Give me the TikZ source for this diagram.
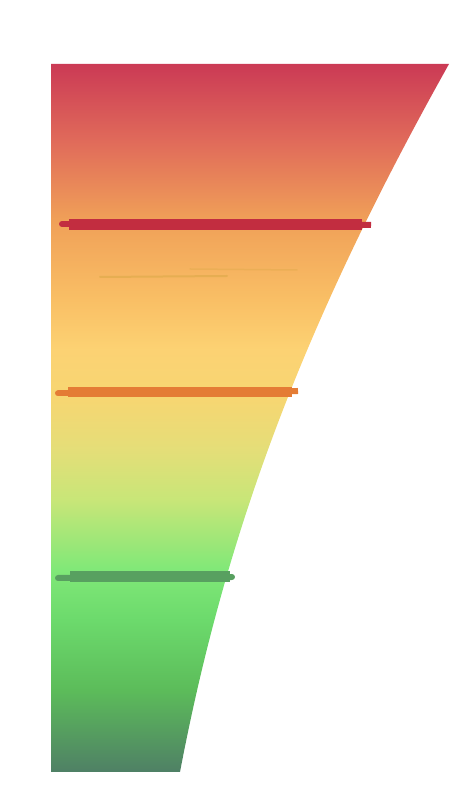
\documentclass[tikz,border=0pt]{standalone}
\definecolor{c1}{HTML}{CB3A55}
\definecolor{c2}{HTML}{E06A5A}
\definecolor{c3}{HTML}{F0A058}
\definecolor{c4}{HTML}{F9BF65}
\definecolor{c5}{HTML}{FCD273}
\definecolor{c6}{HTML}{F6D672}
\definecolor{c7}{HTML}{E4DE78}
\definecolor{c8}{HTML}{C8E678}
\definecolor{c9}{HTML}{80E878}
\definecolor{c10}{HTML}{6CDA6C}
\definecolor{c11}{HTML}{5CBC5A}
\definecolor{c12}{HTML}{4F8065}
\definecolor{redbar}{HTML}{C22D40}
\definecolor{orangebar}{HTML}{E47C35}
\definecolor{greenbar}{HTML}{58A060}
% positions: bp = 25 + 50*(772-y)/708
\pgfdeclareverticalshading{ramp}{100bp}{%
  color(0bp)=(c12);
  color(25bp)=(c12);
  color(30.79bp)=(c11);
  color(35.73bp)=(c10);
  color(39.27bp)=(c9);
  color(44.21bp)=(c8);
  color(47.74bp)=(c7);
  color(51.27bp)=(c6);
  color(54.80bp)=(c5);
  color(58.33bp)=(c4);
  color(63.98bp)=(c3);
  color(69.63bp)=(c2);
  color(75bp)=(c1);
  color(100bp)=(c1)}
\begin{document}
\begin{tikzpicture}[x=1pt,y=1pt,
  bar/.style={line width=11pt},
  barthin/.style={line width=6pt, line cap=round}]
\useasboundingbox (0,0) rectangle (450,809);
\shade[shading=ramp] (51,745) -- (449,745) .. controls (309,495) and (227.5,287) .. (180,37) -- (51,37) -- cycle;
\begin{scope}
  \clip (51,745) -- (449,745) .. controls (309,495) and (227.5,287) .. (180,37) -- (51,37) -- cycle;
  % faint brush marks
  \draw[olive, opacity=0.15, line width=2pt, line cap=round] (100,532) -- (227,533);
  \draw[olive, opacity=0.10, line width=1.5pt, line cap=round] (190,540) -- (297,539);
\end{scope}
% red stroke
\coordinate (rA) at (62,585);
\coordinate (rE) at (69,585);
\coordinate (rB) at (371,584);
\coordinate (rC) at (69,584.5);
\coordinate (rD) at (362,584.5);
\draw[redbar, barthin] (rA) -- (rE);
\draw[redbar, line width=6pt] (rE) -- (rB);
\draw[redbar, bar] (rC) -- (rD);
% orange stroke
\coordinate (oA) at (58,415.5);
\coordinate (oE) at (68,415.5);
\coordinate (oB) at (298,418);
\coordinate (oC) at (68,417);
\coordinate (oD) at (292,417);
\draw[orangebar, barthin] (oA) -- (oE);
\draw[orangebar, line width=6pt] (oE) -- (oB);
\draw[orangebar, line width=10pt] (oC) -- (oD);
% green stroke
\coordinate (gA) at (58,231);
\coordinate (gB) at (232,232);
\coordinate (gC) at (70,232);
\coordinate (gD) at (230,232);
\draw[greenbar, barthin] (gA) -- (gB);
\draw[greenbar, bar] (gC) -- (gD);
\end{tikzpicture}
\end{document}
